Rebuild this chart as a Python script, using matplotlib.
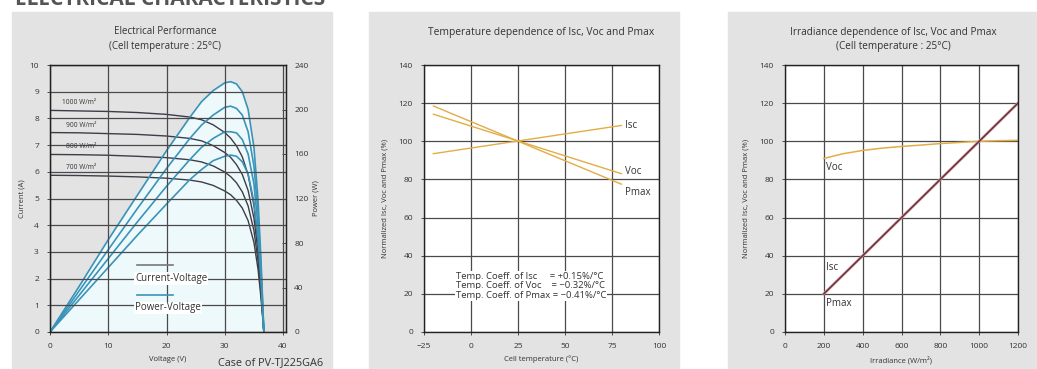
import matplotlib
matplotlib.use("Agg")
import matplotlib.pyplot as plt
from matplotlib.patches import Rectangle

plt.rcParams["font.family"] = ["Open Sans", "DejaVu Sans"]

# I-V / P-V curves (cell temperature 25C)
volt = [0, 5, 10, 15, 20, 24, 26, 28, 30, 31, 32, 33, 34, 35, 35.7, 36.2, 36.7]
cur_1000 = [8.30, 8.28, 8.26, 8.22, 8.15, 8.05, 7.95, 7.76, 7.47, 7.26, 6.97, 6.56, 5.89, 4.73, 3.32, 1.83, 0]
cur_900 = [7.47, 7.46, 7.43, 7.40, 7.34, 7.25, 7.16, 6.98, 6.72, 6.54, 6.27, 5.90, 5.30, 4.26, 2.99, 1.64, 0]
cur_800 = [6.65, 6.64, 6.62, 6.58, 6.53, 6.45, 6.37, 6.22, 5.99, 5.82, 5.59, 5.25, 4.72, 3.79, 2.66, 1.46, 0]
cur_700 = [5.87, 5.86, 5.84, 5.81, 5.76, 5.69, 5.62, 5.49, 5.28, 5.14, 4.93, 4.64, 4.17, 3.35, 2.35, 1.29, 0]
pow_1000 = [0, 41, 83, 123, 163, 193, 207, 217, 224, 225, 223, 216, 200, 166, 119, 66, 0]
pow_900 = [0, 37, 74, 111, 147, 174, 186, 195, 202, 203, 201, 195, 180, 149, 107, 59, 0]
pow_800 = [0, 33, 66, 99, 131, 155, 166, 174, 180, 180, 179, 173, 160, 133, 95, 53, 0]
pow_700 = [0, 29, 58, 87, 115, 137, 146, 154, 158, 159, 158, 153, 142, 117, 84, 47, 0]
irr_labels = ["1000 W/m²", "900 W/m²", "800 W/m²", "700 W/m²"]

# temperature dependence
temp = [-20, 80]
isc_temp = [93.5, 108.3]
voc_temp = [114.2, 83.0]
pmax_temp = [118.5, 77.5]
coeff_text = ["Temp. Coeff. of Isc     = +0.15%/°C",
              "Temp. Coeff. of Voc    = −0.32%/°C",
              "Temp. Coeff. of Pmax = −0.41%/°C"]

# irradiance dependence
irr = [200, 1200]
isc_irr = [20, 120]
pmax_irr = [20, 120]
irr_voc = [200, 300, 400, 500, 600, 700, 800, 900, 1000, 1100, 1200]
voc_irr = [91, 93.5, 95.2, 96.4, 97.3, 98.0, 98.8, 99.4, 100, 100.3, 100.5]

W, H = 1037, 369
fig = plt.figure(figsize=(W / 100, H / 100), dpi=100)

# grey panels
for x0, x1 in [(12, 332), (369, 679), (728, 1037)]:
    fig.patches.append(Rectangle((x0 / W, 0), (x1 - x0) / W, (H - 12) / H,
                                 transform=fig.transFigure, color="#e3e3e3", zorder=-10))

fig.text(15 / W, 1 - 5 / H, "ELECTRICAL CHARACTERISTICS", fontsize=15, color="#555555",
         fontweight="bold", va="baseline", ha="left")

grid_c = "#4a4a4a"
txt_c = "#333333"
fs = 6


def style(ax):
    ax.grid(True, color=grid_c, lw=0.9)
    ax.set_axisbelow(True)
    for s in ax.spines.values():
        s.set_color("#222222")
        s.set_linewidth(1.0)
    ax.tick_params(labelsize=fs, colors=txt_c, length=2, width=0.6, pad=6)


bot = 1 - 332 / H
hgt = 267 / H

# ---- panel 1
ax1 = fig.add_axes([50 / W, bot, 236 / W, hgt])
style(ax1)
ax1.set_xlim(0, 40.5)
ax1.set_ylim(0, 10)
ax1.set_xticks([0, 10, 20, 30, 40])
ax1.set_yticks(range(0, 11))
tw = ax1.twinx()
tw.set_ylim(0, 240)
tw.set_yticks(range(0, 241, 40))
tw.tick_params(labelsize=fs, colors=txt_c, length=3, width=0.6, direction="in", pad=6)
for s in tw.spines.values():
    s.set_color("#222222")
# grid axis on top of the power axis
tw.set_zorder(0)
ax1.set_zorder(1)
ax1.patch.set_visible(False)
tw.set_facecolor("white")

tw.fill_between(volt, pow_1000, color="#eef9fc", lw=0, zorder=0)
for cur, pw in [(cur_1000, pow_1000), (cur_900, pow_900), (cur_800, pow_800), (cur_700, pow_700)]:
    tw.plot(volt, [c * 24 for c in cur], color="#3d3d48", lw=1.0, zorder=2)
    tw.plot(volt, pw, color="#3a93b8", lw=1.2, zorder=3)
for lab, isc in zip(irr_labels, [cur_1000[0], cur_900[0], cur_800[0], cur_700[0]]):
    ax1.text(2.0 if lab.startswith("1") else 2.8, isc + 0.15, lab, fontsize=4.8,
             color=txt_c, ha="left", va="bottom")

ax1.plot([14.9, 21.1], [2.5, 2.5], color="#777777", lw=1.2)
ax1.plot([14.9, 21.1], [1.4, 1.4], color="#3a93b8", lw=1.2)
ax1.text(14.6, 2.0, "Current-Voltage", fontsize=7, color=txt_c, va="center",
         bbox=dict(facecolor="white", edgecolor="none", pad=0.6))
ax1.text(14.6, 0.9, "Power-Voltage", fontsize=7, color=txt_c, va="center",
         bbox=dict(facecolor="white", edgecolor="none", pad=0.6))
ax1.set_xlabel("Voltage (V)", fontsize=5.5, color=txt_c, labelpad=4)
ax1.set_ylabel("Current (A)", fontsize=5.5, color=txt_c, labelpad=3)
tw.set_ylabel("Power (W)", fontsize=5.5, color=txt_c, labelpad=3)
fig.text(165 / W, 1 - 32 / H, "Electrical Performance", fontsize=7, ha="center",
         va="center", color=txt_c)
fig.text(165 / W, 1 - 46 / H, "(Cell temperature : 25°C)", fontsize=7, ha="center",
         va="center", color=txt_c)
fig.text(218 / W, 1 - 363 / H, "Case of PV-TJ225GA6", fontsize=7.8, ha="left",
         va="center", color=txt_c)

# ---- panel 2
ax2 = fig.add_axes([424 / W, bot, 235 / W, hgt])
style(ax2)
ax2.set_facecolor("white")
ax2.set_xlim(-25, 100)
ax2.set_ylim(0, 140)
ax2.set_xticks([-25, 0, 25, 50, 75, 100])
ax2.set_yticks(range(0, 141, 20))
gold = "#e2ad45"
ax2.plot(temp, isc_temp, color=gold, lw=1.0)
ax2.plot(temp, voc_temp, color=gold, lw=1.0)
ax2.plot(temp, pmax_temp, color=gold, lw=1.0)
ax2.text(82, isc_temp[1], "Isc", fontsize=7, color=txt_c, va="center")
ax2.text(82, voc_temp[1] + 1, "Voc", fontsize=7, color=txt_c, va="center")
ax2.text(82, 73, "Pmax", fontsize=7, color=txt_c, va="center")
for i, line in enumerate(coeff_text):
    ax2.text(-8, 29 - i * 4.8, line, fontsize=6.8, color=txt_c, va="center", ha="left",
             bbox=dict(facecolor="white", edgecolor="none", pad=0.8))
ax2.set_xlabel("Cell temperature (°C)", fontsize=5.5, color=txt_c, labelpad=4)
ax2.set_ylabel("Normalized Isc, Voc and Pmax (%)", fontsize=5.5, color=txt_c, labelpad=7)
fig.text(541 / W, 1 - 33 / H, "Temperature dependence of Isc, Voc and Pmax", fontsize=7.4,
         ha="center", va="center", color=txt_c)

# ---- panel 3
ax3 = fig.add_axes([785 / W, bot, 233 / W, hgt])
style(ax3)
ax3.set_facecolor("white")
ax3.set_xlim(0, 1200)
ax3.set_ylim(0, 140)
ax3.set_xticks(range(0, 1201, 200))
ax3.set_yticks(range(0, 141, 20))
ax3.plot(irr_voc, voc_irr, color=gold, lw=1.1)
ax3.plot(irr, isc_irr, color="#d99090", lw=2.0)
ax3.plot(irr, pmax_irr, color="#5a3440", lw=1.0)
ax3.text(212, 86, "Voc", fontsize=7, color=txt_c, va="center")
ax3.text(212, 34, "Isc", fontsize=7, color=txt_c, va="center")
ax3.text(212, 15, "Pmax", fontsize=7, color=txt_c, va="center")
ax3.set_xlabel("Irradiance (W/m²)", fontsize=5.5, color=txt_c, labelpad=4)
ax3.set_ylabel("Normalized Isc, Voc and Pmax (%)", fontsize=5.5, color=txt_c, labelpad=7)
fig.text(893 / W, 1 - 33 / H, "Irradiance dependence of Isc, Voc and Pmax", fontsize=7.2,
         ha="center", va="center", color=txt_c)
fig.text(893 / W, 1 - 47 / H, "(Cell temperature : 25°C)", fontsize=7.2,
         ha="center", va="center", color=txt_c)

fig.savefig("out.png", dpi=100)
